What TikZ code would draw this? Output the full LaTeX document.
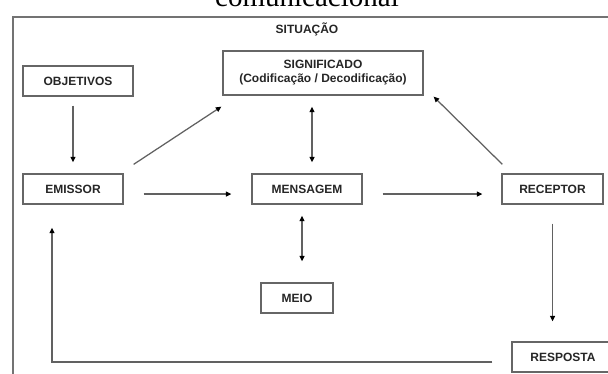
\documentclass[tikz,border=0pt]{standalone}
\usepackage{fontspec}
\setmainfont{Liberation Serif}
\newfontfamily\labelfont{Liberation Sans}
\usetikzlibrary{arrows.meta,calc}

\tikzset{
  tip/.tip={Triangle[length=5.5pt,width=5pt,color=black,fill=black]},
  box/.style={draw=black!60, line width=1.3pt, fill=white, inner sep=0pt,
    align=center, text=black!85, font=\labelfont\bfseries\fontsize{12}{14}\selectfont},
  link/.style={draw=black!62, line width=1.25pt, -tip},
  twoway/.style={draw=black!62, line width=1.25pt, tip-tip},
  frame/.style={draw=black!55, line width=1.4pt}
}

\begin{document}
\begin{tikzpicture}[x=1pt,y=-1pt]
  \clip (0,0) rectangle (608,373);
  \fill[white] (0,0) rectangle (608,373);

  % caption line above the frame
  \node[anchor=base, font=\fontsize{29}{32}\selectfont, inner sep=0pt] (caption) at (307,6.5) {comunicacional};

  % outer frame of the situation
  \draw[frame] (13,17) rectangle (650,420);
  \node[font=\labelfont\bfseries\fontsize{12}{14}\selectfont, text=black!85] (sit) at (307,29) {SITUAÇÃO};

  % boxes
  \node[box, minimum width=110pt, minimum height=30pt] (obj) at (78,81) {OBJETIVOS};
  \node[box, minimum width=100pt, minimum height=30pt] (emi) at (73,189) {EMISSOR};
  \node[box, minimum width=200pt, minimum height=44pt] (sig) at (323,73) {SIGNIFICADO\\(Codificação / Decodificação)};
  \node[box, minimum width=110pt, minimum height=30pt] (men) at (307,189) {MENSAGEM};
  \node[box, minimum width=101pt, minimum height=30pt] (rec) at (552.5,189) {RECEPTOR};
  \node[box, minimum width=72pt, minimum height=30pt] (meio) at (297,298) {MEIO};
  \node[box, minimum width=102pt, minimum height=30pt] (resp) at (563,357) {RESPOSTA};

  % connectors
  \draw[link, shorten <=9pt, shorten >=11pt] (emi.north |- obj.south) -- (emi.north);
  \draw[link] ($(emi.north east)+(10,-9)$) -- ($(sig.south west)+(-1,11)$);
  \draw[link] ($(emi.east)+(20,5)$) -- ($(men.west)+(-20,5)$);
  \coordinate (mtop) at ($(men.north)+(5,0)$);
  \draw[twoway, shorten <=11pt, shorten >=11pt] (mtop |- sig.south) -- (mtop);
  \draw[link] ($(men.east)+(20,5)$) -- ($(rec.west)+(-19,5)$);
  \draw[link] ($(rec.north west)+(1,-9)$) -- ($(sig.south east)+(10,1)$);
  \coordinate (mbot) at ($(men.south)+(-5,0)$);
  \draw[twoway, shorten <=11pt, shorten >=21pt] (mbot) -- (mbot |- meio.north);
  \draw[link, shorten <=19pt, shorten >=20pt] (rec.south) -- (rec.south |- resp.north);
  \draw[link] ($(resp.west)+(-19,5)$) -| ($(emi.south)+(-21,23)$);
\end{tikzpicture}
\end{document}
